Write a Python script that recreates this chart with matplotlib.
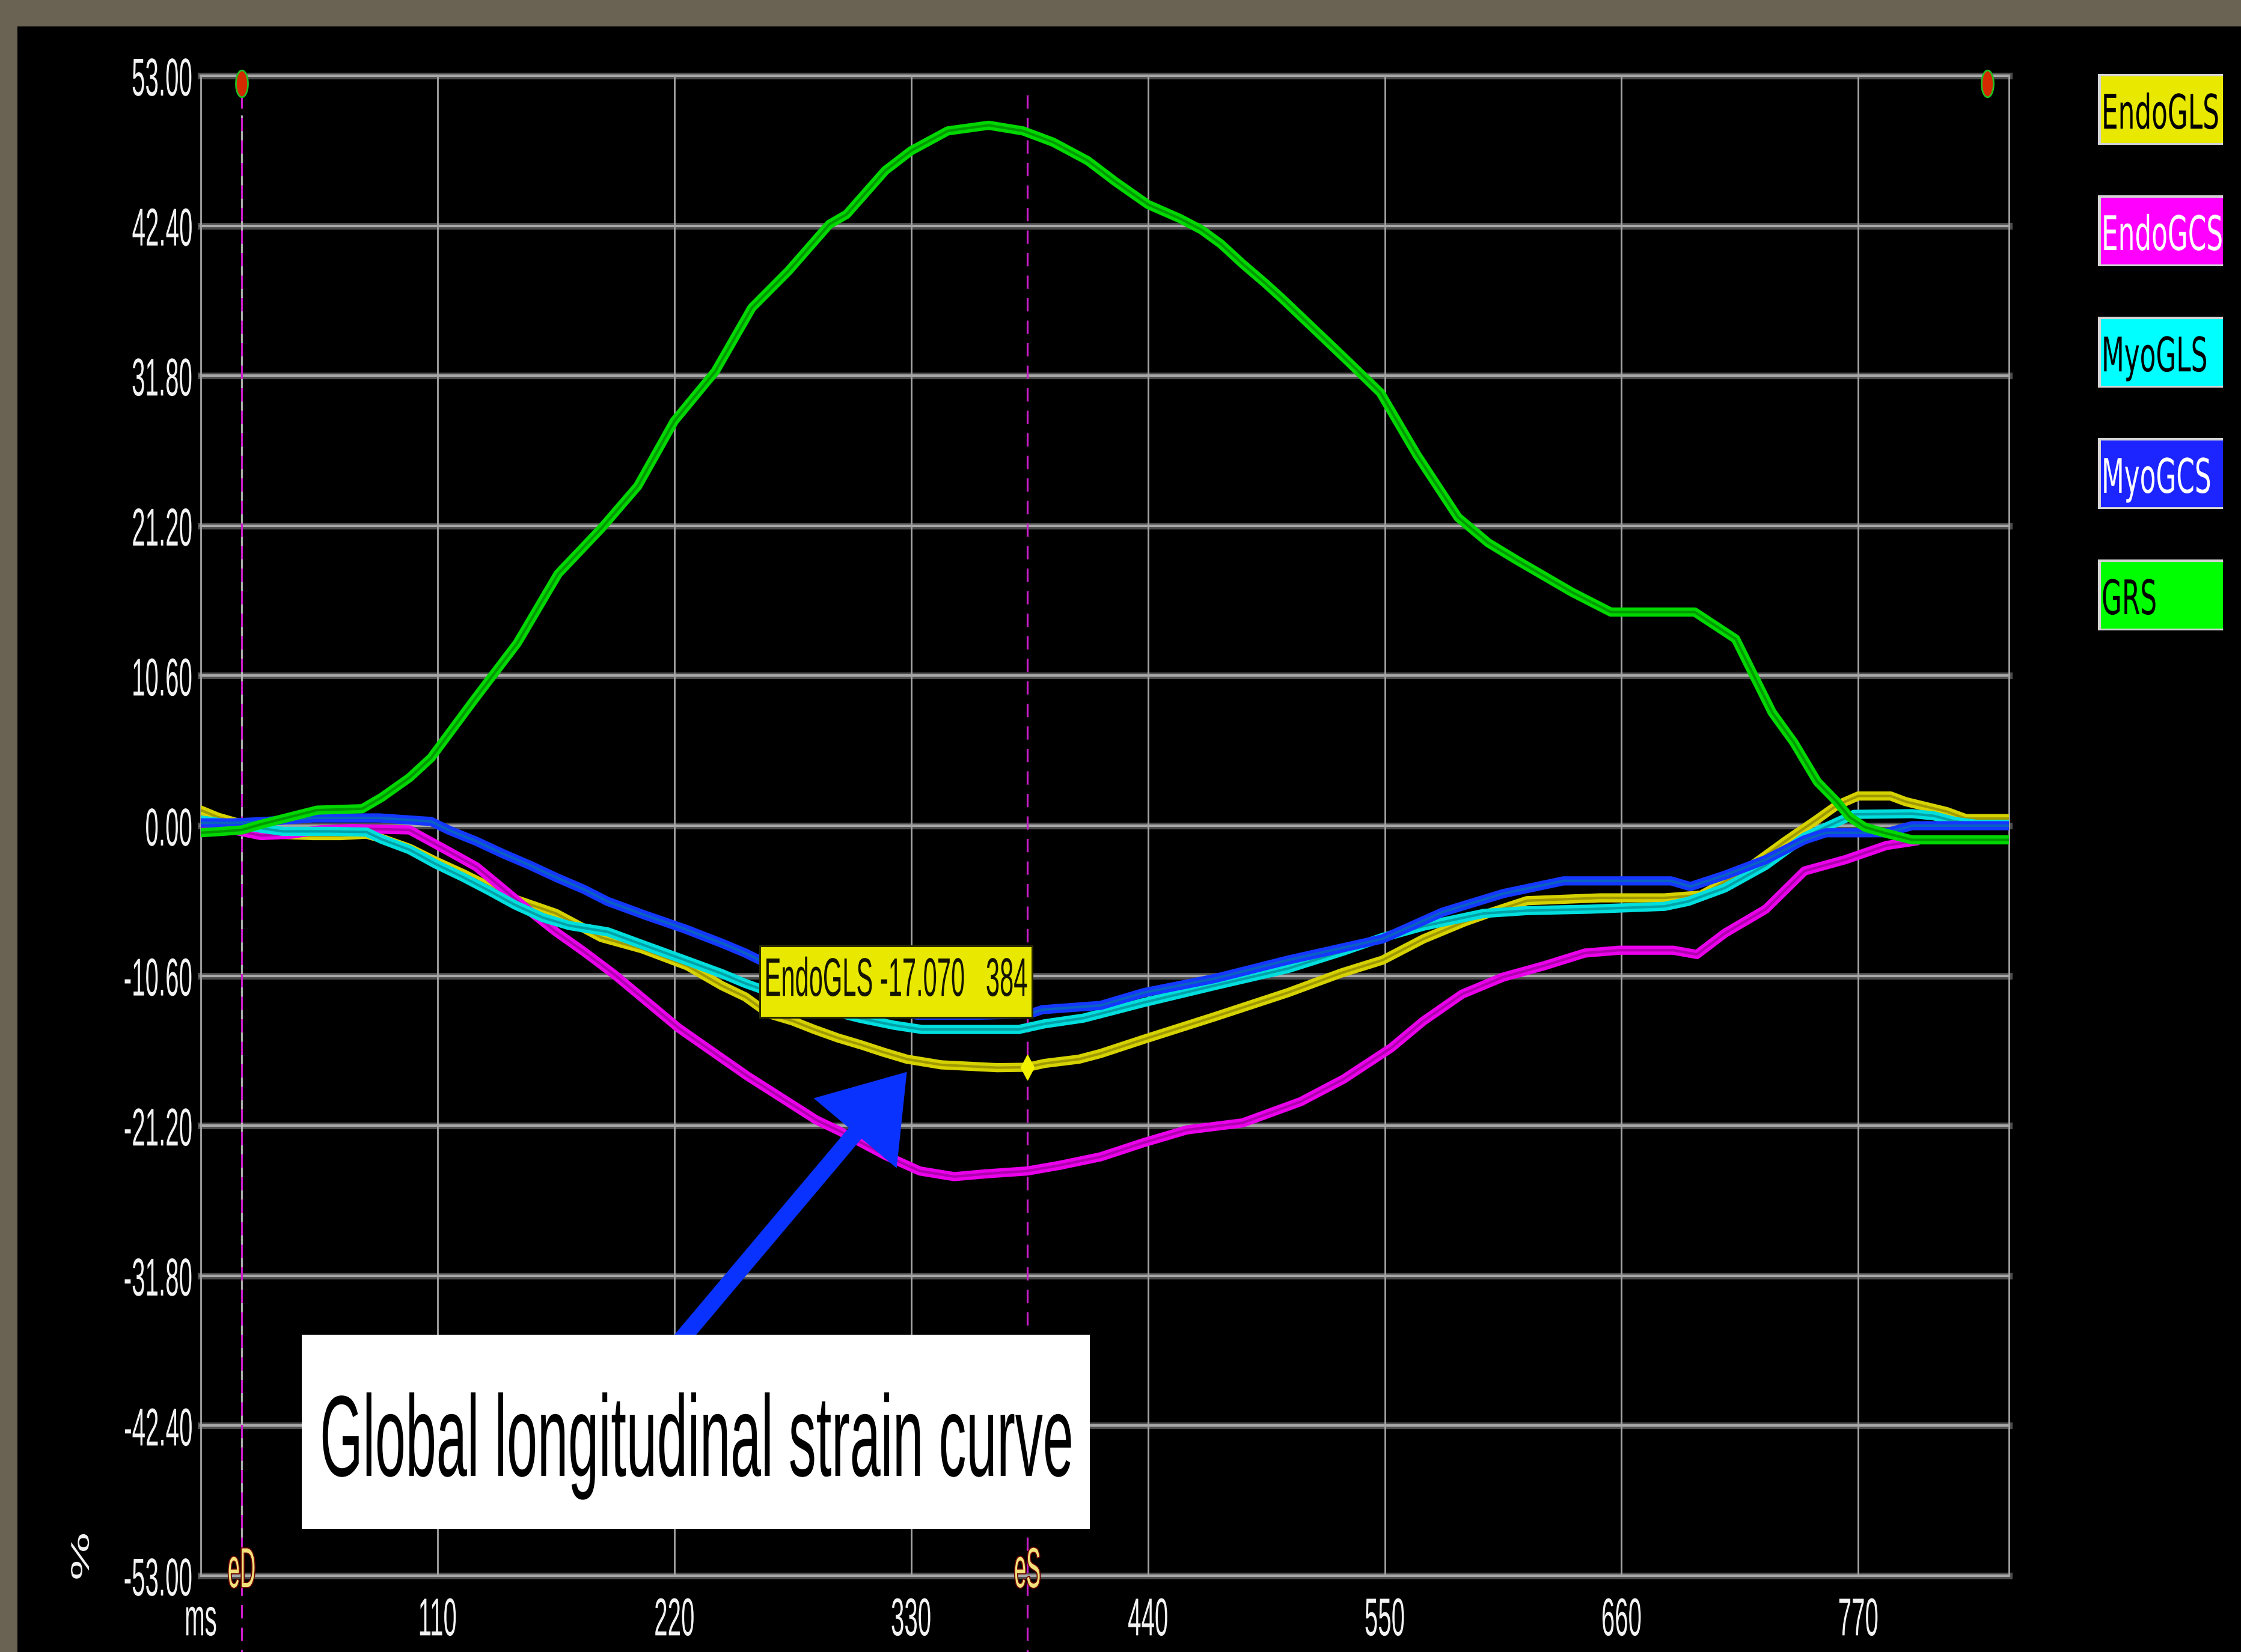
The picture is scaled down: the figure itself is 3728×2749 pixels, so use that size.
# 左室ストレイン曲線 (1心周期) をグラフ表示して out.png に保存するプログラム
# plot.py

import matplotlib
matplotlib.use("Agg")
import matplotlib.pyplot as plt
from matplotlib import patheffects
from matplotlib.patches import Rectangle
from matplotlib.markers import MarkerStyle
from matplotlib.transforms import Affine2D

#####################################################################################
# 時刻 [ms] とストレイン [%]

endo_gls_ms = [0, 8, 16, 25, 35, 52, 65, 77, 84, 97, 109, 122, 134, 146, 165, 186, 205, 226,
               242, 253, 264, 275, 285, 296, 307, 317, 328, 344, 357, 370, 384, 392, 408, 418,
               438, 471, 505, 530, 549, 568, 587, 600, 616, 650, 680, 697, 717, 736, 751, 760,
               770, 785, 792, 811, 820, 840]
endo_gls = [1.1, 0.6, 0.25, -0.2, -0.6, -0.7, -0.7, -0.6, -0.9, -1.6, -2.5, -3.4, -4.3, -5.2,
            -6.2, -7.9, -8.7, -9.9, -11.3, -12.1, -13.3, -13.8, -14.4, -15.0, -15.5, -16.0,
            -16.5, -16.9, -17.0, -17.1, -17.07, -16.8, -16.5, -16.1, -15.1, -13.5, -11.8, -10.4,
            -9.5, -8.0, -6.8, -6.1, -5.3, -5.1, -5.1, -4.9, -3.2, -1.1, 0.46, 1.44, 2.1, 2.1,
            1.7, 1.0, 0.5, 0.5]

endo_gcs_ms = [0, 15, 28, 42, 55, 70, 84, 97, 103, 115, 128, 140, 153, 165, 178, 192, 222, 254,
               286, 297, 318, 334, 350, 365, 384, 399, 418, 438, 458, 484, 511, 531, 553, 568,
               586, 605, 624, 643, 659, 684, 695, 708, 727, 745, 764, 783, 796]
endo_gcs = [-0.2, -0.3, -0.7, -0.6, -0.3, -0.2, -0.25, -0.3, -0.8, -1.8, -2.9, -4.4, -6.06,
            -7.5, -8.9, -10.5, -14.3, -17.7, -20.8, -21.6, -23.3, -24.4, -24.8, -24.6, -24.4,
            -24.0, -23.4, -22.4, -21.5, -21.0, -19.5, -17.9, -15.7, -13.8, -11.9, -10.7, -9.9,
            -9.0, -8.8, -8.8, -9.1, -7.6, -5.9, -3.2, -2.4, -1.4, -1.1]

myo_gls_ms = [0, 10, 20, 38, 60, 77, 84, 97, 109, 122, 134, 146, 159, 171, 189, 206, 225, 242,
              253, 280, 306, 322, 335, 358, 380, 392, 410, 438, 471, 505, 530, 549, 568, 596,
              616, 645, 680, 691, 708, 727, 745, 755, 768, 795, 805, 815, 825, 840]
myo_gls = [0.4, 0.2, 0.0, -0.4, -0.4, -0.45, -0.96, -1.7, -2.7, -3.65, -4.6, -5.6, -6.5, -7.05,
           -7.5, -8.45, -9.5, -10.45, -11.15, -12.6, -13.6, -14.1, -14.4, -14.4, -14.4, -14.0,
           -13.6, -12.5, -11.3, -10.1, -8.9, -7.9, -7.1, -6.2, -6.0, -5.9, -5.7, -5.35, -4.4,
           -2.8, -0.8, -0.1, 0.8, 0.85, 0.7, 0.3, 0.1, 0.1]

myo_gcs_ms = [0, 15, 30, 52, 83, 107, 115, 128, 140, 153, 165, 178, 189, 206, 225, 242, 253,
              265, 280, 300, 320, 333, 360, 385, 391, 418, 438, 471, 505, 549, 577, 605, 633,
              660, 683, 692, 708, 727, 745, 755, 783, 795, 840]
myo_gcs = [0.2, 0.2, 0.3, 0.55, 0.55, 0.3, -0.3, -1.1, -1.95, -2.8, -3.65, -4.5, -5.35, -6.3,
           -7.3, -8.3, -9.0, -9.9, -11.0, -12.2, -13.0, -13.4, -13.4, -13.3, -13.0, -12.7,
           -11.8, -10.8, -9.5, -8.0, -6.1, -4.8, -3.9, -3.9, -3.9, -4.3, -3.5, -2.4, -1.0, -0.5,
           -0.5, 0.0, 0.0]

grs_ms = [0, 10, 19, 28, 41, 54, 75, 84, 97, 107, 127, 147, 166, 186, 203, 220, 239, 256, 273,
          292, 300, 318, 330, 347, 366, 382, 396, 412, 425, 440, 455, 465, 474, 484, 494, 502,
          531, 548, 565, 584, 598, 611, 637, 655, 694, 713, 730, 740, 751, 760, 766, 773, 782,
          795, 840]
grs = [-0.5, -0.4, -0.3, 0.1, 0.6, 1.1, 1.2, 2.0, 3.4, 4.8, 8.9, 12.9, 17.8, 21.0, 24.0, 28.6,
       32.1, 36.6, 39.2, 42.5, 43.2, 46.3, 47.7, 49.1, 49.5, 49.1, 48.3, 47.0, 45.5, 43.9, 42.9,
       42.1, 41.1, 39.7, 38.4, 37.3, 33.1, 30.6, 26.2, 21.8, 20.0, 18.8, 16.5, 15.1, 15.1, 13.2,
       8.0, 5.9, 3.1, 1.7, 0.6, -0.1, -0.5, -1.0, -1.0]

series_names = ["EndoGLS", "EndoGCS", "MyoGLS", "MyoGCS", "GRS"]
series_ms = [endo_gls_ms, endo_gcs_ms, myo_gls_ms, myo_gcs_ms, grs_ms]
series_val = [endo_gls, endo_gcs, myo_gls, myo_gcs, grs]

ed_ms = 19          # 拡張末期 eD
es_ms = 384         # 収縮末期 eS
cycle_end_ms = 830  # 周期終端マーカー
es_value = -17.070  # eS での EndoGLS

x_ticks = [0, 110, 220, 330, 440, 550, 660, 770]
x_tick_labels = ["ms", "110", "220", "330", "440", "550", "660", "770"]
y_ticks = [53.0, 42.4, 31.8, 21.2, 10.6, 0.0, -10.6, -21.2, -31.8, -42.4, -53.0]
y_tick_labels = ["53.00", "42.40", "31.80", "21.20", "10.60", "0.00",
                 "-10.60", "-21.20", "-31.80", "-42.40", "-53.00"]
x_range = (0, 840)
y_range = (-53, 53)

arrow_tip = (328, -17.4)
arrow_tail = (205, -39.6)
#####################################################################################

W, H = 3728, 2749  # 出力画像サイズ [px]

line_colors = ["#d6d200", "#ea00ea", "#00dede", "#1438ff", "#00d800"]
line_cores = ["#a09a00", "#b000b0", "#00a2a8", "#0a62c0", "#009a00"]
box_colors = ["#e8e800", "#ff00ff", "#00ffff", "#1c24ff", "#00ff00"]
box_text = ["#000000", "#ffffff", "#000000", "#ffffff", "#000000"]

plt.rcParams["lines.scale_dashes"] = False


class Tall(patheffects.AbstractPathEffect):
    """文字 (と枠) をアンカー位置を基準に縦に引き伸ばす"""

    def __init__(self, artist, sy, stroke=None):
        super().__init__()
        self.artist = artist
        self.sy = sy
        self.stroke = stroke

    def draw_path(self, renderer, gc, tpath, affine, rgbFace=None):
        y0 = self.artist.get_transform().transform(self.artist.get_position())[1]
        aff = affine + Affine2D().translate(0, -y0).scale(1, self.sy).translate(0, y0)
        if self.stroke is not None:
            gc0 = renderer.new_gc()
            gc0.copy_properties(gc)
            gc0.set_foreground(self.stroke[0])
            gc0.set_linewidth(self.stroke[1])
            renderer.draw_path(gc0, tpath, aff)
            gc0.restore()
        renderer.draw_path(gc, tpath, aff, rgbFace)


def tall(txt, sy, stroke=None):
    txt.set_path_effects([Tall(txt, sy, stroke)])
    patch = txt.get_bbox_patch()
    if patch is not None:
        patch.set_path_effects([Tall(txt, sy)])
    return txt


fig = plt.figure(figsize=(W / 100, H / 100), dpi=100, facecolor="black")

# 外枠
fig.add_artist(Rectangle((0, 1 - 44 / H), 1, 44 / H, transform=fig.transFigure,
                         fc="#6a6252", ec="none", zorder=0))
fig.add_artist(Rectangle((0, 0), 29 / W, 1, transform=fig.transFigure,
                         fc="#6a6252", ec="none", zorder=0))

ax = fig.add_axes([334 / W, 1 - 2622 / H, 3008 / W, 2496 / H])
ax.set_facecolor("black")
for s in ax.spines.values():
    s.set_visible(False)
ax.set_xlim(*x_range)
ax.set_ylim(*y_range)

# グリッド
for y in y_ticks:
    ax.axhline(y, color="#4c4c4c", lw=8, zorder=1, clip_on=False)
    ax.axhline(y, color="#a8a8a8", lw=3, zorder=1.1, clip_on=False)
for x in list(x_ticks[1:]) + list(x_range):
    ax.axvline(x, color="#a4a4a4", lw=2, zorder=1.2, clip_on=False)

# eD / eS の縦線
xtr = ax.get_xaxis_transform()
ax.axvline(ed_ms, ymax=0.973, color="#bdbdbd", lw=2, zorder=1.5)
for t in (ed_ms, es_ms):
    ax.plot([t, t], [0.987, -0.06], transform=xtr, color="#c81ec8", lw=2.3,
            dashes=(16, 11), zorder=1.6, clip_on=False)
ax.plot([ed_ms, cycle_end_ms], [0.9948, 0.9948], transform=xtr, ls="none",
        marker=MarkerStyle("o", transform=Affine2D().scale(0.45, 1)), ms=32,
        mfc="#d42a00", mec="#22c022", mew=2, zorder=5, clip_on=False)

# ストレイン曲線
for i, (t, v) in enumerate(zip(series_ms, series_val)):
    ax.plot(t, v, color=line_colors[i], lw=11, zorder=3 + 0.1 * i,
            solid_joinstyle="round")
    ax.plot(t, v, color=line_cores[i], lw=3, zorder=3.05 + 0.1 * i,
            solid_joinstyle="round")

# eS 点のマーカーとラベル
ax.plot([es_ms], [es_value], ls="none",
        marker=MarkerStyle("D", transform=Affine2D().scale(0.55, 1)), ms=21,
        color="#f2f200", zorder=4)
lab = ax.text(es_ms, -10.6, "EndoGLS {0:.3f}   {1}".format(es_value, es_ms),
              ha="right", va="center_baseline", fontsize=30, family="Liberation Sans",
              color="#141400", zorder=8,
              bbox=dict(boxstyle="square,pad=0.18", fc="#e8e800", ec="#2a2a00", lw=2.2))
tall(lab, 2.17)

# 矢印と説明ボックス
ax.annotate("", xy=arrow_tip, xytext=arrow_tail, zorder=7,
            arrowprops=dict(arrowstyle="simple,head_length=9.6,head_width=13,tail_width=2.0",
                            mutation_scale=10, color="#0a32ff", lw=0,
                            shrinkA=0, shrinkB=0))
ax.add_patch(Rectangle((0.05585, 0.03125), 0.43584, 0.12941, transform=ax.transAxes,
                       fc="white", ec="none", zorder=8, clip_on=False))
cap = ax.text(0.2741, 0.0946, "Global longitudinal strain curve", transform=ax.transAxes,
              ha="center", va="center_baseline", fontsize=66, family="Liberation Sans",
              color="black", zorder=9)
tall(cap, 2.09)

# eD / eS ラベル
for t, s in ((ed_ms, "eD"), (es_ms, "eS")):
    tx = ax.text(t, 0.0064, s, transform=xtr, ha="center", va="center_baseline",
                 fontsize=26, family="Liberation Sans", color="#f2e27a", zorder=6,
                 clip_on=False)
    tall(tx, 2.6, stroke=("#6a0000", 2.5))

# 軸目盛り
ax.set_xticks(x_ticks, x_tick_labels)
ax.set_yticks(y_ticks, y_tick_labels)
ax.tick_params(axis="both", length=0, colors="#f2f2f2")
ax.tick_params(axis="x", pad=24)
ax.tick_params(axis="y", pad=10)
for tl in ax.get_xticklabels() + ax.get_yticklabels():
    tl.set_fontfamily("Liberation Sans")
    tl.set_fontsize(29)
    tall(tl, 2.2)

pct = ax.text(-0.0655, 0.0128, "%", transform=ax.transAxes, rotation=90, ha="center",
              va="center", fontsize=31, family="Liberation Sans", color="#f0f0f0")
tall(pct, 2.1)

# 凡例ボックス
for i, name in enumerate(series_names):
    top = 123 + 202 * i
    fig.add_artist(Rectangle((3490 / W, 1 - (top + 118) / H), 208 / W, 118 / H,
                             transform=fig.transFigure, fc="#d4d4d4", ec="none"))
    fig.add_artist(Rectangle((3495 / W, 1 - (top + 115) / H), 203 / W, 111 / H,
                             transform=fig.transFigure, fc=box_colors[i], ec="none"))
    lt = fig.text(3496 / W, 1 - (top + 91) / H, name, ha="left", va="baseline",
                  fontsize=31.5, family="DejaVu Sans", color=box_text[i])
    tall(lt, 1.81)

fig.savefig("out.png", dpi=100, facecolor="black")
